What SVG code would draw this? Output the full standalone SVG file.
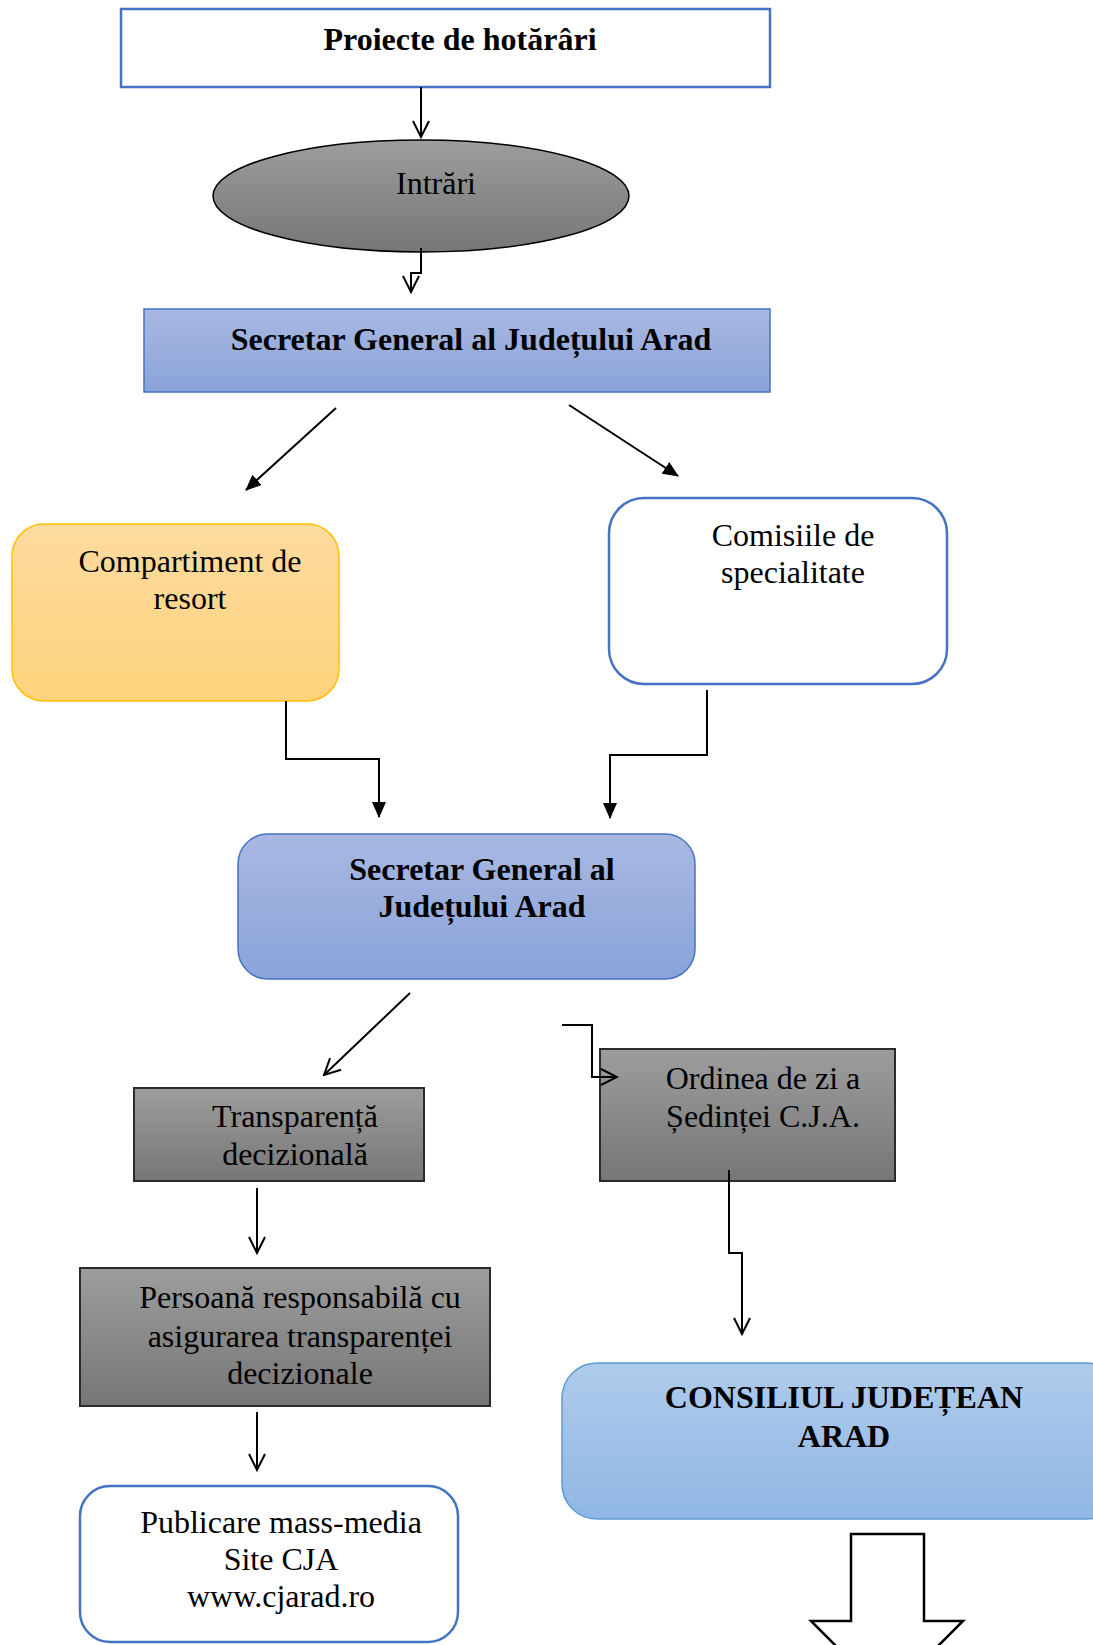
<svg xmlns="http://www.w3.org/2000/svg" width="1093" height="1645" viewBox="0 0 1093 1645">
<style>
text{font-family:"Liberation Serif","Times New Roman",serif;font-size:32px;fill:#000;text-anchor:middle}
.b{font-weight:bold}
.ln{fill:none;stroke:#000;stroke-width:2}
.gray{fill:url(#gGray);stroke:#2b2b2b;stroke-width:2}
</style>
<defs>
<linearGradient id="gGray" x1="0" y1="0" x2="0" y2="1"><stop offset="0" stop-color="#9d9d9d"/><stop offset="1" stop-color="#767676"/></linearGradient>
<linearGradient id="gBlue" x1="0" y1="0" x2="0" y2="1"><stop offset="0" stop-color="#a9b8e2"/><stop offset="1" stop-color="#8aa3d9"/></linearGradient>
<linearGradient id="gOrange" x1="0" y1="0" x2="0" y2="1"><stop offset="0" stop-color="#fddb9f"/><stop offset="1" stop-color="#fed37c"/></linearGradient>
<linearGradient id="gLight" x1="0" y1="0" x2="0" y2="1"><stop offset="0" stop-color="#afcbeb"/><stop offset="1" stop-color="#90b7e4"/></linearGradient>
<marker id="open" viewBox="0 0 20 20" refX="18" refY="10" markerWidth="20" markerHeight="20" markerUnits="userSpaceOnUse" orient="auto">
<path d="M2,2 L18,10 L2,18" fill="none" stroke="#000" stroke-width="2"/>
</marker>
<marker id="fill" viewBox="0 0 16 14" refX="15" refY="7" markerWidth="16" markerHeight="14" markerUnits="userSpaceOnUse" orient="auto">
<path d="M0,0 L16,7 L0,14 Z" fill="#000"/>
</marker>
</defs>

<g id="n-proiecte">
<rect x="121" y="9" width="649" height="78" fill="#fff" stroke="#4472C4" stroke-width="2.5"/>
<text x="460" y="50" class="b">Proiecte de hotărâri</text>
</g>
<g id="n-intrari">
<ellipse cx="421" cy="196" rx="208" ry="56" fill="url(#gGray)" stroke="#000" stroke-width="1.5"/>
<text x="436" y="194">Intrări</text>
</g>
<g id="n-secretar1">
<rect x="144" y="309" width="626" height="83" fill="url(#gBlue)" stroke="#4472C4" stroke-width="1.5"/>
<text x="471" y="350" class="b">Secretar General al Județului Arad</text>
</g>
<g id="n-compartiment">
<rect x="12" y="524" width="327" height="177" rx="32" fill="url(#gOrange)" stroke="#FFC000" stroke-width="1.5"/>
<text x="190" y="572">Compartiment de</text>
<text x="190" y="609">resort</text>
</g>
<g id="n-comisiile">
<rect x="609" y="498" width="338" height="186" rx="35" fill="#fff" stroke="#4472C4" stroke-width="2.5"/>
<text x="793" y="546">Comisiile de</text>
<text x="793" y="583">specialitate</text>
</g>
<g id="n-secretar2">
<rect x="238" y="834" width="457" height="145" rx="30" fill="url(#gBlue)" stroke="#4472C4" stroke-width="1.5"/>
<text x="482" y="880" class="b">Secretar General al</text>
<text x="482" y="917" class="b">Județului Arad</text>
</g>
<g id="n-transparenta">
<rect x="134" y="1088" width="290" height="93" class="gray"/>
<text x="295" y="1127">Transparență</text>
<text x="295" y="1165">decizională</text>
</g>
<g id="n-ordinea">
<rect x="600" y="1049" width="295" height="132" class="gray"/>
<text x="763" y="1089">Ordinea de zi a</text>
<text x="763" y="1127">Ședinței C.J.A.</text>
</g>
<g id="n-persoana">
<rect x="80" y="1268" width="410" height="138" class="gray"/>
<text x="300" y="1308">Persoană responsabilă cu</text>
<text x="300" y="1347">asigurarea transparenței</text>
<text x="300" y="1384">decizionale</text>
</g>
<g id="n-publicare">
<rect x="80" y="1486" width="378" height="156" rx="30" fill="#fff" stroke="#4472C4" stroke-width="2.5"/>
<text x="281" y="1533">Publicare mass-media</text>
<text x="281" y="1570">Site CJA</text>
<text x="281" y="1607">www.cjarad.ro</text>
</g>
<g id="n-consiliul">
<rect x="562" y="1363" width="560" height="156" rx="35" fill="url(#gLight)" stroke="#5b9bd5" stroke-width="1.5"/>
<text x="844" y="1408" class="b">CONSILIUL JUDEȚEAN</text>
<text x="844" y="1447" class="b">ARAD</text>
</g>
<g id="n-blockarrow">
<path d="M851,1534 H924 V1621 H963 L887,1697 L811,1621 H851 Z" fill="#fff" stroke="#000" stroke-width="2.5"/>
</g>

<g id="connectors">
<path class="ln" d="M421,87 V137" marker-end="url(#open)"/>
<path class="ln" d="M421,248 V273 H411 V292" marker-end="url(#open)"/>
<path class="ln" d="M336,408 L246,490" marker-end="url(#fill)"/>
<path class="ln" d="M569,405 L678,476" marker-end="url(#fill)"/>
<path class="ln" d="M286,701 V759 H379 V817" marker-end="url(#fill)"/>
<path class="ln" d="M707,690 V755 H610 V818" marker-end="url(#fill)"/>
<path class="ln" d="M410,993 L324,1075" marker-end="url(#open)"/>
<path class="ln" d="M562,1025 H592 V1077 H617" marker-end="url(#open)"/>
<path class="ln" d="M257,1188 V1253" marker-end="url(#open)"/>
<path class="ln" d="M729,1170 V1253 H742 V1334" marker-end="url(#open)"/>
<path class="ln" d="M257,1412 V1470" marker-end="url(#open)"/>
</g>
</svg>
